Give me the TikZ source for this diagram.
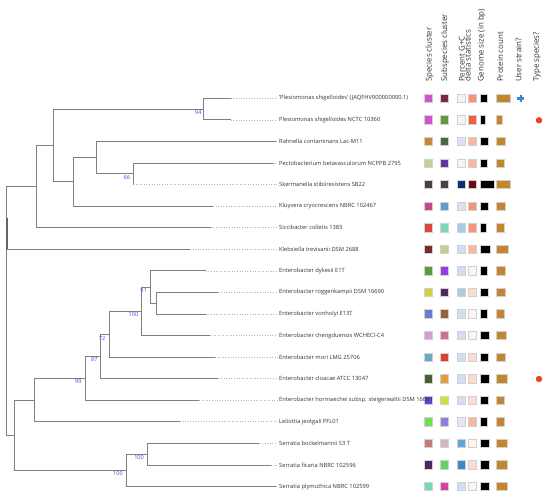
\documentclass[tikz,border=0pt]{standalone}
\usepackage{fontspec}
\setmainfont{Open Sans}
\usetikzlibrary{calc}
\definecolor{brgray}{HTML}{808080}
\definecolor{dotgray}{HTML}{B4B4B4}
\definecolor{txtc}{HTML}{333333}
\definecolor{bootc}{HTML}{4848E8}
\definecolor{protc}{HTML}{C2872E}
\definecolor{crossc}{HTML}{3A88D2}
\definecolor{dotred}{HTML}{F0401E}
\tikzset{
  branch/.style={draw=brgray, line width=0.95pt},
  leafdot/.style={draw=dotgray, line width=0.7pt, dash pattern=on 0.8pt off 1.8pt},
  lab/.style={anchor=west, inner sep=1.5pt, text=txtc, font=\fontsize{5.75}{6.5}\selectfont},
  hdr/.style={anchor=base west, rotate=90, inner sep=0pt, text=txtc, font=\fontsize{7.9}{9}\selectfont},
  boot/.style={anchor=east, inner sep=0pt, text=bootc, font=\fontsize{5.6}{6}\selectfont},
  sq/.style={draw=black!18, line width=0.6pt},
}
\newcommand\sqrow[7]{%
  \definecolor{qa}{HTML}{#2}\definecolor{qb}{HTML}{#3}%
  \definecolor{qc}{HTML}{#4}\definecolor{qd}{HTML}{#5}%
  \path[sq,fill=qa] (424,#1-4.2) rectangle (432,#1+4.2);
  \path[sq,fill=qb] (440.2,#1-4.2) rectangle (448.2,#1+4.2);
  \path[sq,fill=qc] (457,#1-4.2) rectangle (465,#1+4.2);
  \path[sq,fill=qd] (468.3,#1-4.2) rectangle (476.3,#1+4.2);
  \path[sq,fill=black] (480,#1-4.2) rectangle (480+#6,#1+4.2);
  \path[sq,fill=protc] (496.7,#1-4.2) rectangle (496.7+#7,#1+4.2);
}
\begin{document}
\begin{tikzpicture}[x=1pt,y=-1pt]
\useasboundingbox (0,0) rectangle (550,497);

% ---------- header ----------
\node[hdr] (h1) at (431.6,82) {Species cluster};
\node[hdr] (h2) at (447.2,82) {Subspecies cluster};
\node[hdr] (h3) at (464.6,82) {Percent G+C};
\node[hdr] (h4) at (470.6,82) {delta statistics};
\node[hdr] (h5) at (483.5,82) {Genome size (in bp)};
\node[hdr] (h6) at (503,82) {Protein count};
\node[hdr] (h7) at (521.3,82) {User strain?};
\node[hdr] (h8) at (538.8,82) {Type species?};

% ---------- squares ----------
\sqrow{98.3}{CC55CC}{7B2A3A}{F4F4F8}{F79478}{7.3}{14}
\sqrow{119.87}{CC55CC}{5E9A3A}{F4F4F8}{F4603C}{5.3}{5.3}
\sqrow{141.44}{C8883A}{4A6A3A}{D8E4F2}{F8B8A0}{8.7}{8.7}
\sqrow{163.01}{C9CC99}{5A38A0}{F4F4F8}{F8B8A0}{7.3}{8}
\sqrow{184.58}{4D4042}{4D4042}{0E3070}{6A0A12}{14}{14}
\sqrow{206.15}{C84888}{6A98C4}{D8E4F2}{F79478}{8}{8.7}
\sqrow{227.72}{D84A40}{78D8B8}{A8CCE6}{F79478}{6.3}{7.3}
\sqrow{249.29}{7A2A2A}{CACC90}{D0E0F2}{F8B8A0}{10}{11.3}
\sqrow{270.86}{5E9A3A}{9040E0}{D0E0F2}{FFF4EE}{7.3}{8.7}
\sqrow{292.43}{D4D040}{4A2A60}{A8CCE6}{FCDCD0}{8}{8.7}
\sqrow{314.0}{6A7ACC}{9A6038}{D0E0F2}{FFF4EE}{7.3}{8}
\sqrow{335.57}{D0A0D0}{D07090}{D0E0F2}{FFF4EE}{9.7}{9.7}
\sqrow{357.14}{6AAAC0}{D84030}{D0E0F2}{FCDCD0}{8}{8.7}
\sqrow{378.71}{4A6030}{E0A040}{D0E0F2}{FCDCD0}{9.7}{10.3}
\sqrow{400.28}{6A40D0}{D4DC40}{D0E0F2}{FCDCD0}{8}{8}
\sqrow{421.85}{70E050}{9080D8}{E0E8F4}{F8B8A0}{7.3}{8}
\sqrow{443.42}{C87878}{D0B8C0}{60A8D8}{FFF4EE}{9}{10.3}
\sqrow{464.99}{4A2A60}{60D860}{3A8AC8}{FCDCD0}{9}{10.3}
\sqrow{486.56}{70DCB0}{D840A0}{D0E0F2}{FFF4EE}{9}{10.3}

% user strain cross and type species dots
\draw[crossc, line width=2.3pt] (517.3,98.6) -- (524.1,98.6) (520.7,95.2) -- (520.7,102);
\fill[dotred] (539,120.3) circle (3.2);
\fill[dotred] (539,379) circle (3.2);

% ---------- leaf labels ----------
\node[lab] (L1) at (277.5,98.3) {'Plesiomonas shigelloides' (JAQFHV000000000.1)};
\node[lab] (L2) at (277.5,119.87) {Plesiomonas shigelloides NCTC 10360};
\node[lab] (L3) at (277.5,141.44) {Rahnella contaminans Lac-M11};
\node[lab] (L4) at (277.5,163.01) {Pectobacterium betavasculorum NCPPB 2795};
\node[lab] (L5) at (277.5,184.58) {Skermanella stibiiresistens SB22};
\node[lab] (L6) at (277.5,206.15) {Kluyvera cryocrescens NBRC 102467};
\node[lab] (L7) at (277.5,227.72) {Siccibacter colletis 1383};
\node[lab] (L8) at (277.5,249.29) {Klebsiella trevisanii DSM 2688};
\node[lab] (L9) at (277.5,270.86) {Enterobacter dykesii E1T};
\node[lab] (L10) at (277.5,292.43) {Enterobacter roggenkampii DSM 16690};
\node[lab] (L11) at (277.5,314.0) {Enterobacter vonholyi E13T};
\node[lab] (L12) at (277.5,335.57) {Enterobacter chengduensis WCHECl-C4};
\node[lab] (L13) at (277.5,357.14) {Enterobacter mori LMG 25706};
\node[lab] (L14) at (277.5,378.71) {Enterobacter cloacae ATCC 13047};
\node[lab] (L15) at (277.5,400.28) {Enterobacter hormaechei subsp. steigerwaltii DSM 16691};
\node[lab] (L16) at (277.5,421.85) {Leliottia jeotgali PFL01};
\node[lab] (L17) at (277.5,443.42) {Serratia bockelmannii S3 T};
\node[lab] (L18) at (277.5,464.99) {Serratia ficaria NBRC 102596};
\node[lab] (L19) at (277.5,486.56) {Serratia plymuthica NBRC 102599};

% ---------- tree coordinates ----------
\coordinate (R) at (6.7,311);
\coordinate (A) at (36,186.61);
\coordinate (B) at (53.3,145.49);
\coordinate (C) at (203.3,109.09);
\coordinate (D) at (73.3,181.89);
\coordinate (E) at (96.7,157.62);
\coordinate (F) at (133.3,173.80);
\coordinate (N91) at (150,287.04);
\coordinate (Nrv) at (156,303.22);
\coordinate (Na) at (141.7,311.31);
\coordinate (N72) at (109,334.23);
\coordinate (N87) at (100.7,356.47);
\coordinate (N99) at (85.3,378.38);
\coordinate (NH) at (34.7,400.12);
\coordinate (NS2) at (147.3,454.21);
\coordinate (NS) at (126,470.39);
\coordinate (NG) at (14.7,435.26);
% leaf ends
\coordinate (e1) at (230.7,98.3);
\coordinate (e2) at (230.7,119.87);
\coordinate (e3) at (276,141.44);
\coordinate (e4) at (272.7,163.01);
\coordinate (e5) at (133.3,184.58);
\coordinate (e6) at (213,206.15);
\coordinate (e7) at (210.7,227.72);
\coordinate (e8) at (190,249.29);
\coordinate (e9) at (205.7,270.86);
\coordinate (e10) at (218.3,292.43);
\coordinate (e11) at (205.7,314.0);
\coordinate (e12) at (210,335.57);
\coordinate (e13) at (215,357.14);
\coordinate (e14) at (218.3,378.71);
\coordinate (e15) at (199,400.28);
\coordinate (e16) at (180,421.85);
\coordinate (e17) at (259.3,443.42);
\coordinate (e18) at (271,464.99);
\coordinate (e19) at (276,486.56);

% dotted leaders
\foreach \i in {1,...,19} { \draw[leafdot] (e\i) -- (L\i.west); }

% branches
\draw[branch] (R) |- (A);
\draw[branch] (R) |- (e8);
\draw[branch] (R) |- (NG);
\draw[draw=brgray!80!black, line width=1.8pt] (6.7,217.7) -- (6.7,249.3);
\draw[branch] (A) |- (B);
\draw[branch] (A) |- (e7);
\draw[branch] (B) |- (C);
\draw[branch] (B) |- (D);
\draw[branch] (C) |- (e1);
\draw[branch] (C) |- (e2);
\draw[branch] (D) |- (E);
\draw[branch] (D) |- (e6);
\draw[branch] (E) |- (e3);
\draw[branch] (E) |- (F);
\draw[branch] (F) |- (e4);
\draw[branch] (F) |- (e5);
\draw[branch] (NG) |- (NH);
\draw[branch] (NG) |- (NS);
\draw[branch] (NH) |- (N99);
\draw[branch] (NH) |- (e16);
\draw[branch] (N99) |- (N87);
\draw[branch] (N99) |- (e15);
\draw[branch] (N87) |- (N72);
\draw[branch] (N87) |- (e14);
\draw[branch] (N72) |- (Na);
\draw[branch] (N72) |- (e13);
\draw[branch] (Na) |- (N91);
\draw[branch] (Na) |- (e12);
\draw[branch] (N91) |- (e9);
\draw[branch] (N91) |- (Nrv);
\draw[branch] (Nrv) |- (e10);
\draw[branch] (Nrv) |- (e11);
\draw[branch] (NS) |- (NS2);
\draw[branch] (NS) |- (e19);
\draw[branch] (NS2) |- (e17);
\draw[branch] (NS2) |- (e18);

% bootstrap values
\node[boot] (b94) at ($(C)+(-1.5,3.5)$) {94};
\node[boot] (b66) at ($(F)+(-3,3.6)$) {66};
\node[boot] (b91) at ($(N91)+(-3,3.5)$) {91};
\node[boot] (b100a) at ($(Na)+(-3.3,3.2)$) {100};
\node[boot] (b72) at ($(N72)+(-3.5,3.8)$) {72};
\node[boot] (b87) at ($(N87)+(-3,3)$) {87};
\node[boot] (b99) at ($(N99)+(-3.5,3.3)$) {99};
\node[boot] (b100b) at ($(NS2)+(-3.2,3.2)$) {100};
\node[boot] (b100c) at ($(NS)+(-3,3)$) {100};
\end{tikzpicture}
\end{document}
